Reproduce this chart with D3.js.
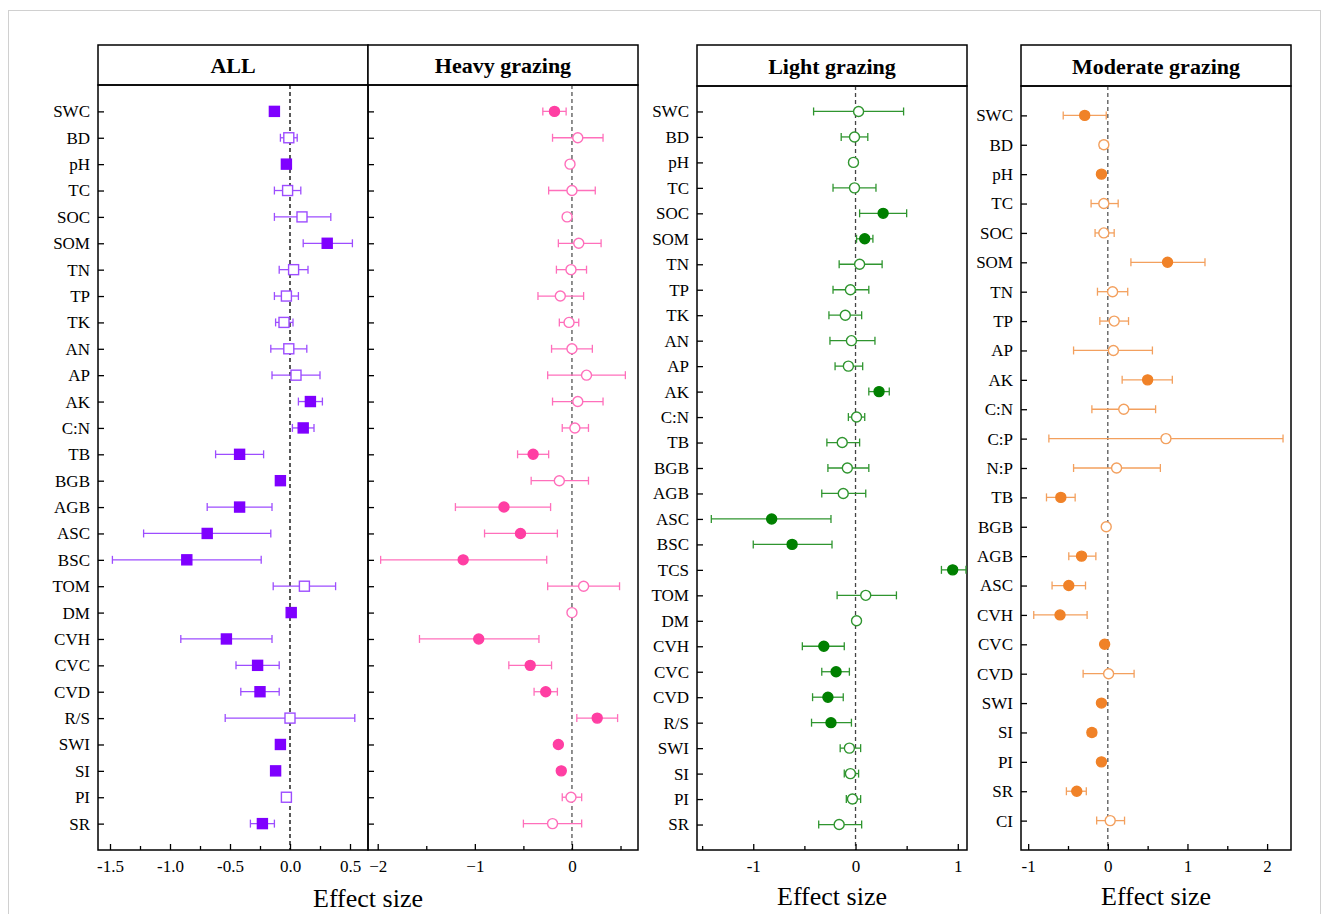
<!DOCTYPE html>
<html>
<head>
<meta charset="utf-8">
<script src="https://cdn.jsdelivr.net/npm/d3@7"></script>
<style>
  body { margin: 0; background: #fff; }
  svg { font-family: "Times New Roman", "Liberation Serif", serif; }
</style>
</head>
<body>
<svg id="chart"></svg>
<script>
// categories
var allCats = ["SWC","BD","pH","TC","SOC","SOM","TN","TP","TK","AN","AP","AK","C:N","TB","BGB","AGB","ASC","BSC","TOM","DM","CVH","CVC","CVD","R/S","SWI","SI","PI","SR"];
var lightCats = ["SWC","BD","pH","TC","SOC","SOM","TN","TP","TK","AN","AP","AK","C:N","TB","BGB","AGB","ASC","BSC","TCS","TOM","DM","CVH","CVC","CVD","R/S","SWI","SI","PI","SR"];
var modCats = ["SWC","BD","pH","TC","SOC","SOM","TN","TP","AP","AK","C:N","C:P","N:P","TB","BGB","AGB","ASC","CVH","CVC","CVD","SWI","SI","PI","SR","CI"];

// ALL
var allMean = [-0.13,-0.01,-0.03,-0.02,0.10,0.31,0.03,-0.03,-0.05,-0.01,0.05,0.17,0.11,-0.42,-0.08,-0.42,-0.69,-0.86,0.12,0.01,-0.53,-0.27,-0.25,0.0,-0.08,-0.12,-0.03,-0.23];
var allLow = [-0.16,-0.08,-0.06,-0.13,-0.13,0.11,-0.09,-0.13,-0.12,-0.16,-0.15,0.07,0.02,-0.62,-0.10,-0.69,-1.22,-1.48,-0.14,-0.01,-0.91,-0.45,-0.41,-0.54,-0.10,-0.15,-0.05,-0.33];
var allHigh = [-0.10,0.06,0.0,0.09,0.34,0.52,0.15,0.07,0.025,0.14,0.25,0.27,0.20,-0.22,-0.06,-0.15,-0.16,-0.24,0.38,0.03,-0.15,-0.09,-0.09,0.54,-0.06,-0.09,-0.01,-0.13];
var allSig = [1,0,1,0,0,1,0,0,0,0,0,1,1,1,1,1,1,1,0,1,1,1,1,0,1,1,0,1];

// Heavy grazing
var heavyMean = [-0.18,0.06,-0.02,0.0,-0.05,0.07,-0.01,-0.12,-0.03,0.0,0.15,0.06,0.03,-0.40,-0.13,-0.70,-0.53,-1.12,0.12,0.0,-0.96,-0.43,-0.27,0.26,-0.14,-0.11,-0.01,-0.20];
var heavyLow = [-0.30,-0.20,-0.04,-0.24,-0.07,-0.14,-0.16,-0.35,-0.13,-0.21,-0.25,-0.20,-0.10,-0.56,-0.42,-1.20,-0.90,-1.97,-0.25,-0.02,-1.57,-0.65,-0.39,0.05,-0.16,-0.13,-0.10,-0.50];
var heavyHigh = [-0.06,0.32,0.0,0.24,-0.03,0.30,0.15,0.12,0.07,0.21,0.55,0.32,0.17,-0.24,0.17,-0.22,-0.15,-0.26,0.49,0.02,-0.34,-0.21,-0.15,0.47,-0.12,-0.09,0.10,0.10];
var heavySig = [1,0,0,0,0,0,0,0,0,0,0,0,0,1,0,1,1,1,0,0,1,1,1,1,1,1,0,0];

// Light grazing
var lightMean = [0.03,-0.01,-0.02,-0.01,0.27,0.09,0.04,-0.05,-0.10,-0.04,-0.07,0.23,0.01,-0.13,-0.08,-0.12,-0.82,-0.62,0.95,0.10,0.01,-0.31,-0.19,-0.27,-0.24,-0.06,-0.05,-0.03,-0.16];
var lightLow = [-0.41,-0.14,-0.03,-0.22,0.04,0.01,-0.16,-0.22,-0.26,-0.25,-0.20,0.13,-0.07,-0.28,-0.27,-0.33,-1.41,-1.0,0.84,-0.18,-0.01,-0.52,-0.33,-0.42,-0.43,-0.15,-0.11,-0.09,-0.36];
var lightHigh = [0.47,0.12,0.0,0.20,0.50,0.17,0.26,0.13,0.06,0.19,0.07,0.33,0.09,0.04,0.13,0.10,-0.24,-0.23,1.08,0.40,0.03,-0.11,-0.06,-0.12,-0.04,0.05,0.03,0.05,0.06];
var lightSig = [0,0,0,0,1,1,0,0,0,0,0,1,0,0,0,0,1,1,1,0,0,1,1,1,1,0,0,0,0];

// Moderate grazing
var modMean = [-0.29,-0.05,-0.08,-0.05,-0.05,0.75,0.06,0.08,0.07,0.50,0.20,0.73,0.11,-0.59,-0.02,-0.33,-0.49,-0.60,-0.04,0.01,-0.08,-0.20,-0.08,-0.39,0.03];
var modLow = [-0.56,-0.10,-0.10,-0.21,-0.16,0.29,-0.13,-0.10,-0.43,0.18,-0.20,-0.74,-0.43,-0.77,-0.04,-0.49,-0.70,-0.93,-0.06,-0.31,-0.10,-0.25,-0.10,-0.52,-0.14];
var modHigh = [-0.02,0.0,-0.06,0.13,0.08,1.22,0.25,0.26,0.56,0.81,0.60,2.20,0.66,-0.41,0.0,-0.15,-0.28,-0.26,-0.02,0.33,-0.06,-0.15,-0.06,-0.27,0.21];
var modSig = [1,0,1,0,0,1,0,0,0,1,0,0,0,1,0,1,1,1,1,0,1,1,1,1,0];

var width = 1322, height = 914;
var svg = d3.select("#chart").attr("width", width).attr("height", height);

// faint frame round the figure
svg.append("rect")
  .attr("x", 8.5).attr("y", 10.5)
  .attr("width", width - 10).attr("height", height)
  .attr("fill", "none").attr("stroke", "#d0d0d0");

var panels = [
  { title: "ALL", cats: allCats, mean: allMean, low: allLow, high: allHigh, sig: allSig,
    left: 98, right: 368, top: 85, domain: [-1.6, 0.65],
    major: [-1.5, -1, -0.5, 0, 0.5], minor: [-1.25, -0.75, -0.25, 0.25],
    fmt: function(d) { return d.toFixed(1); }, yLabels: true,
    shape: "square", fill: "#7f00ff", bar: "#9d4dff", zero: "#000" },
  { title: "Heavy grazing", cats: allCats, mean: heavyMean, low: heavyLow, high: heavyHigh, sig: heavySig,
    left: 368, right: 638, top: 85, domain: [-2.1, 0.68],
    major: [-2, -1, 0], minor: [-1.5, -0.5, 0.5],
    fmt: function(d) { return d < 0 ? "\u2212" + Math.abs(d) : String(d); }, yLabels: false,
    shape: "circle", fill: "#ff3fa3", bar: "#ff6fbb", zero: "#555" },
  { title: "Light grazing", cats: lightCats, mean: lightMean, low: lightLow, high: lightHigh, sig: lightSig,
    left: 697, right: 967, top: 86, domain: [-1.55, 1.09],
    major: [-1, 0, 1], minor: [-1.5, -0.5, 0.5],
    fmt: function(d) { return String(d); }, yLabels: true,
    shape: "circle", fill: "#008000", bar: "#2f952f", zero: "#444" },
  { title: "Moderate grazing", cats: modCats, mean: modMean, low: modLow, high: modHigh, sig: modSig,
    left: 1021, right: 1291, top: 86, domain: [-1.09, 2.3],
    major: [-1, 0, 1, 2], minor: [-0.5, 0.5, 1.5],
    fmt: function(d) { return String(d); }, yLabels: true,
    shape: "circle", fill: "#f08228", bar: "#f3a05e", zero: "#555" }
];

var headTop = 45, bottom = 850;

panels.forEach(function(p) {
  var g = svg.append("g");

  var x = d3.scaleLinear().domain(p.domain).range([p.left, p.right]);
  var y = d3.scalePoint().domain(p.cats).range([p.top, bottom]).padding(1);

  // header box
  g.append("rect")
    .attr("x", p.left).attr("y", headTop)
    .attr("width", p.right - p.left).attr("height", p.top - headTop)
    .attr("fill", "#fff").attr("stroke", "#000").attr("stroke-width", 1.5);
  g.append("text")
    .attr("x", (p.left + p.right) / 2).attr("y", (headTop + p.top) / 2 + 8)
    .attr("text-anchor", "middle")
    .style("font-size", "22px").style("font-weight", "bold")
    .text(p.title);

  // zero line
  g.append("line")
    .attr("x1", x(0)).attr("x2", x(0))
    .attr("y1", p.top).attr("y2", bottom)
    .attr("stroke", p.zero).attr("stroke-width", 1.3)
    .attr("stroke-dasharray", "4,3");

  // y axis
  var yAxis = d3.axisLeft(y).tickSizeInner(-6).tickSizeOuter(0).tickPadding(8);
  if (!p.yLabels) yAxis.tickFormat("");
  var yg = g.append("g").attr("transform", "translate(" + p.left + ",0)").call(yAxis);
  yg.select(".domain").remove();
  yg.selectAll("line").attr("stroke", "#000").attr("stroke-width", 1.3);
  yg.selectAll("text").style("font-size", "17px").style("font-family", "Times New Roman, Liberation Serif, serif").attr("fill", "#000");

  // x axis
  var xg = g.append("g").attr("transform", "translate(0," + bottom + ")")
    .call(d3.axisBottom(x).tickValues(p.major).tickFormat(p.fmt).tickSizeInner(-6).tickSizeOuter(0).tickPadding(10));
  xg.select(".domain").remove();
  xg.selectAll("line").attr("stroke", "#000").attr("stroke-width", 1.3);
  xg.selectAll("text").style("font-size", "17px").style("font-family", "Times New Roman, Liberation Serif, serif").attr("fill", "#000");

  var mg = g.append("g").attr("transform", "translate(0," + bottom + ")")
    .call(d3.axisBottom(x).tickValues(p.minor).tickFormat("").tickSizeInner(-4).tickSizeOuter(0));
  mg.select(".domain").remove();
  mg.selectAll("line").attr("stroke", "#000").attr("stroke-width", 1.3);

  // plot frame
  g.append("rect")
    .attr("x", p.left).attr("y", p.top)
    .attr("width", p.right - p.left).attr("height", bottom - p.top)
    .attr("fill", "none").attr("stroke", "#000").attr("stroke-width", 1.5);

  var rows = p.cats.map(function(c, i) {
    return { cat: c, mean: p.mean[i], low: p.low[i], high: p.high[i], sig: p.sig[i] };
  });

  // error bars
  var eb = g.append("g").selectAll("g").data(rows).enter().append("g")
    .attr("stroke", p.bar).attr("stroke-width", 1.3).attr("fill", "none");
  eb.append("line")
    .attr("x1", function(d) { return x(d.low); })
    .attr("x2", function(d) { return x(d.high); })
    .attr("y1", function(d) { return y(d.cat); })
    .attr("y2", function(d) { return y(d.cat); });
  eb.append("line")
    .attr("x1", function(d) { return x(d.low); })
    .attr("x2", function(d) { return x(d.low); })
    .attr("y1", function(d) { return y(d.cat) - 4; })
    .attr("y2", function(d) { return y(d.cat) + 4; });
  eb.append("line")
    .attr("x1", function(d) { return x(d.high); })
    .attr("x2", function(d) { return x(d.high); })
    .attr("y1", function(d) { return y(d.cat) - 4; })
    .attr("y2", function(d) { return y(d.cat) + 4; });

  // markers
  var mk = g.append("g").selectAll(".mk").data(rows).enter();
  if (p.shape === "square") {
    mk.append("rect")
      .attr("class", "mk")
      .attr("x", function(d) { return x(d.mean) - 5; })
      .attr("y", function(d) { return y(d.cat) - 5; })
      .attr("width", 10).attr("height", 10)
      .attr("fill", function(d) { return d.sig ? p.fill : "#fff"; })
      .attr("stroke", function(d) { return d.sig ? p.fill : p.bar; })
      .attr("stroke-width", 1.4);
  } else {
    mk.append("circle")
      .attr("class", "mk")
      .attr("cx", function(d) { return x(d.mean); })
      .attr("cy", function(d) { return y(d.cat); })
      .attr("r", 5)
      .attr("fill", function(d) { return d.sig ? p.fill : "#fff"; })
      .attr("stroke", function(d) { return d.sig ? p.fill : p.bar; })
      .attr("stroke-width", 1.4);
  }
});

// axis titles
var titles = [
  { x: 368, y: 907 },
  { x: 832, y: 905 },
  { x: 1156, y: 905 }
];
svg.selectAll(".xtitle").data(titles).enter().append("text")
  .attr("class", "xtitle")
  .attr("x", function(d) { return d.x; })
  .attr("y", function(d) { return d.y; })
  .attr("text-anchor", "middle")
  .style("font-size", "26px")
  .text("Effect size");
</script>
</body>
</html>
